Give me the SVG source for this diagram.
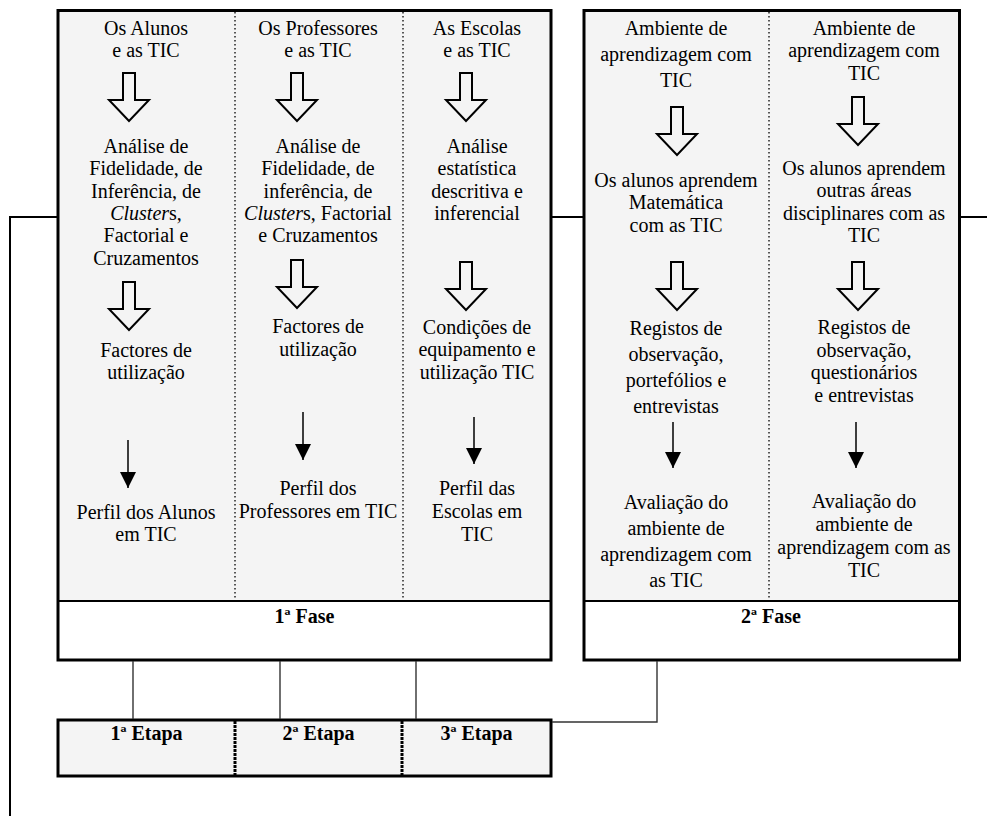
<svg xmlns="http://www.w3.org/2000/svg" width="987" height="816" viewBox="0 0 987 816">
<style>
.t{font-family:"Liberation Serif","Times New Roman",serif;font-size:20px;text-anchor:middle;fill:#000}
.b{font-weight:bold}
.i{font-style:italic}
.panel{fill:#f4f4f4}
.lab{fill:#fff}
.frame{fill:none;stroke:#000;stroke-width:3}
.sep{stroke:#000;stroke-width:2}
.dot{stroke:#222;stroke-width:1.5;stroke-dasharray:1.5 2.5}
.dash{stroke:#000;stroke-width:3;stroke-dasharray:3 1}
.conn{fill:none;stroke:#000;stroke-width:2}
.thin{fill:none;stroke:#333;stroke-width:1.4}
.ba{fill:#f4f4f4;stroke:#000;stroke-width:2;stroke-linejoin:miter}
.ar{stroke:#000;stroke-width:1.5;marker-end:url(#tri)}
</style>
<defs>
<path id="bigarrow" d="M-6,0 H6 V27 H20 L0,48 L-20,27 H-6 Z"/>
<marker id="tri" markerUnits="userSpaceOnUse" markerWidth="16" markerHeight="16" refX="16" refY="8" orient="auto">
<path d="M0,0 L16,8 L0,16 Z" fill="#000"/>
</marker>
</defs>

<g id="fase1">
<rect class="panel" x="58" y="10.5" width="493" height="590.5"/>
<rect class="lab" x="58" y="601" width="493" height="59"/>
<line class="dot" x1="235" y1="12" x2="235" y2="600"/>
<line class="dot" x1="403" y1="12" x2="403" y2="600"/>
<line class="sep" x1="58" y1="601" x2="551" y2="601"/>
<rect class="frame" x="58" y="10.5" width="493" height="649.5"/>
<text class="t b" x="304.5" y="623">1ª Fase</text>
</g>

<g id="fase2">
<rect class="panel" x="584" y="10.5" width="375.5" height="590.5"/>
<rect class="lab" x="584" y="601" width="375.5" height="59"/>
<line class="dot" x1="769" y1="12" x2="769" y2="600"/>
<line class="sep" x1="584" y1="601" x2="959.5" y2="601"/>
<rect class="frame" x="584" y="10.5" width="375.5" height="649.5"/>
<text class="t b" x="771" y="623">2ª Fase</text>
</g>

<g id="etapas">
<rect class="panel" x="58" y="720" width="493" height="56"/>
<line class="dash" x1="235" y1="721" x2="235" y2="775"/>
<line class="dash" x1="402" y1="721" x2="402" y2="775"/>
<rect class="frame" x="58" y="720" width="493" height="56"/>
<text class="t b" x="146.5" y="740">1ª Etapa</text>
<text class="t b" x="318.5" y="740">2ª Etapa</text>
<text class="t b" x="476.5" y="740">3ª Etapa</text>
</g>

<g id="c1-alunos" class="t"><text x="146" y="35">Os Alunos</text><text x="146" y="57">e as TIC</text></g>
<g id="c1-analise" class="t"><text x="146" y="153">Análise de</text><text x="146" y="175">Fidelidade, de</text><text x="146" y="198">Inferência, de</text><text x="146" y="220"><tspan class="i">Cluster</tspan>s,</text><text x="146" y="242">Factorial e</text><text x="146" y="265">Cruzamentos</text></g>
<g id="c1-factores" class="t"><text x="146" y="357">Factores de</text><text x="146" y="379">utilização</text></g>
<g id="c1-perfil" class="t"><text x="146" y="519">Perfil dos Alunos</text><text x="146" y="541">em TIC</text></g>

<g id="c2-professores" class="t"><text x="318" y="35">Os Professores</text><text x="318" y="57">e as TIC</text></g>
<g id="c2-analise" class="t"><text x="318" y="153">Análise de</text><text x="318" y="175">Fidelidade, de</text><text x="318" y="198">inferência, de</text><text x="318" y="220"><tspan class="i">Cluster</tspan>s, Factorial</text><text x="318" y="242">e Cruzamentos</text></g>
<g id="c2-factores" class="t"><text x="318" y="333">Factores de</text><text x="318" y="356">utilização</text></g>
<g id="c2-perfil" class="t"><text x="318" y="495">Perfil dos</text><text x="318" y="518">Professores em TIC</text></g>

<g id="c3-escolas" class="t"><text x="477" y="35">As Escolas</text><text x="477" y="57">e as TIC</text></g>
<g id="c3-analise" class="t"><text x="477" y="153">Análise</text><text x="477" y="175">estatística</text><text x="477" y="198">descritiva e</text><text x="477" y="220">inferencial</text></g>
<g id="c3-condicoes" class="t"><text x="477" y="334">Condições de</text><text x="477" y="356">equipamento e</text><text x="477" y="379">utilização TIC</text></g>
<g id="c3-perfil" class="t"><text x="477" y="495">Perfil das</text><text x="477" y="518">Escolas em</text><text x="477" y="541">TIC</text></g>

<g id="c4-ambiente" class="t"><text x="676" y="35">Ambiente de</text><text x="676" y="61">aprendizagem com</text><text x="676" y="87">TIC</text></g>
<g id="c4-matematica" class="t"><text x="676" y="187">Os alunos aprendem</text><text x="676" y="209">Matemática</text><text x="676" y="232">com as TIC</text></g>
<g id="c4-registos" class="t"><text x="676" y="335">Registos de</text><text x="676" y="361">observação,</text><text x="676" y="387">portefólios e</text><text x="676" y="413">entrevistas</text></g>
<g id="c4-avaliacao" class="t"><text x="676" y="509">Avaliação do</text><text x="676" y="535">ambiente de</text><text x="676" y="561">aprendizagem com</text><text x="676" y="587">as TIC</text></g>

<g id="c5-ambiente" class="t"><text x="864" y="35">Ambiente de</text><text x="864" y="57">aprendizagem com</text><text x="864" y="80">TIC</text></g>
<g id="c5-outras" class="t"><text x="864" y="175">Os alunos aprendem</text><text x="864" y="197">outras áreas</text><text x="864" y="220">disciplinares com as</text><text x="864" y="242">TIC</text></g>
<g id="c5-registos" class="t"><text x="864" y="334">Registos de</text><text x="864" y="357">observação,</text><text x="864" y="379">questionários</text><text x="864" y="402">e entrevistas</text></g>
<g id="c5-avaliacao" class="t"><text x="864" y="508">Avaliação do</text><text x="864" y="531">ambiente de</text><text x="864" y="554">aprendizagem com as</text><text x="864" y="577">TIC</text></g>

<g id="connectors">
<polyline class="conn" points="58,217 10,217 10,816"/>
<line class="conn" x1="551" y1="217" x2="584" y2="217"/>
<line class="conn" x1="959" y1="217" x2="987" y2="217"/>
<line class="thin" x1="133" y1="661" x2="133" y2="719"/>
<line class="thin" x1="280" y1="661" x2="280" y2="719"/>
<line class="thin" x1="416" y1="661" x2="416" y2="719"/>
<polyline class="thin" points="657,661 657,722 552,722"/>
<use href="#bigarrow" class="ba" transform="translate(129,73)"/>
<use href="#bigarrow" class="ba" transform="translate(129,282)"/>
<use href="#bigarrow" class="ba" transform="translate(297,73)"/>
<use href="#bigarrow" class="ba" transform="translate(297,260)"/>
<use href="#bigarrow" class="ba" transform="translate(466,73)"/>
<use href="#bigarrow" class="ba" transform="translate(466,262)"/>
<use href="#bigarrow" class="ba" transform="translate(677,107)"/>
<use href="#bigarrow" class="ba" transform="translate(677,262)"/>
<use href="#bigarrow" class="ba" transform="translate(858,97)"/>
<use href="#bigarrow" class="ba" transform="translate(858,262)"/>
<line class="ar" x1="128" y1="440" x2="128" y2="488"/>
<line class="ar" x1="303" y1="412" x2="303" y2="460"/>
<line class="ar" x1="474" y1="417" x2="474" y2="464"/>
<line class="ar" x1="673" y1="422" x2="673" y2="468"/>
<line class="ar" x1="856" y1="422" x2="856" y2="468"/>
</g>
</svg>
